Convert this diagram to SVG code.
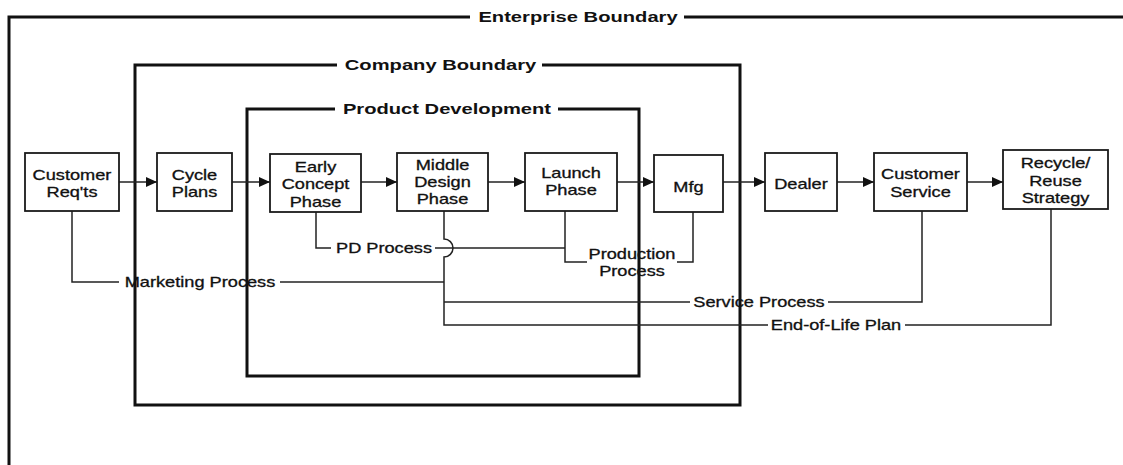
<svg xmlns="http://www.w3.org/2000/svg" width="1123" height="465" viewBox="0 0 1123 465">
  <style>
    .bound { fill: none; stroke: #111; stroke-width: 3; }
    .box { fill: #fff; stroke: #1a1a1a; stroke-width: 1.8; }
    .wire { fill: none; stroke: #222; stroke-width: 1.5; }
    .flow { fill: none; stroke: #222; stroke-width: 1.5; marker-end: url(#head); }
    .lbl { font-family: "Liberation Sans", Arial, sans-serif; font-size: 14px; fill: #111; stroke: #111; stroke-width: 0.3; text-anchor: middle; }
    .title { font-family: "Liberation Sans", Arial, sans-serif; font-size: 15.5px; font-weight: bold; fill: #111; text-anchor: middle; }
  </style>
  <defs>
    <marker id="head" markerUnits="userSpaceOnUse" markerWidth="11" markerHeight="10" refX="11" refY="5" orient="auto">
      <path d="M0,0 L11,5 L0,10 Z" fill="#111"/>
    </marker>
  </defs>
  <rect width="1123" height="465" fill="#fff"/>

  <!-- Nested boundaries -->
  <g id="enterprise-boundary">
    <path class="bound" d="M470,17 H9 V465"/>
    <path class="bound" d="M684,17 H1123"/>
    <text class="title" transform="translate(578 0) scale(1.3 1)" x="0" y="22.5">Enterprise Boundary</text>
  </g>
  <g id="company-boundary">
    <path class="bound" d="M337,65 H135 V405 H740 V65 H542"/>
    <text class="title" transform="translate(440.5 0) scale(1.3 1)" x="0" y="70.5">Company Boundary</text>
  </g>
  <g id="product-development">
    <path class="bound" d="M335,109 H247 V376 H639 V109 H558"/>
    <text class="title" transform="translate(447 0) scale(1.3 1)" x="0" y="114.5">Product Development</text>
  </g>

  <!-- Connectors -->
  <g id="connectors">
    <!-- main value chain -->
    <line class="flow" x1="119" y1="182" x2="157" y2="182"/>
    <line class="flow" x1="232" y1="182" x2="270" y2="182"/>
    <line class="flow" x1="361" y1="182" x2="397" y2="182"/>
    <line class="flow" x1="488" y1="182" x2="525" y2="182"/>
    <line class="flow" x1="617" y1="182" x2="654" y2="182"/>
    <line class="flow" x1="723" y1="182" x2="765" y2="182"/>
    <line class="flow" x1="837" y1="182" x2="874" y2="182"/>
    <line class="flow" x1="967" y1="182" x2="1003" y2="182"/>

    <!-- marketing process -->
    <path class="wire" d="M72,211 V282 H119"/>
    <path class="wire" d="M280,282 H444"/>
    <!-- PD process -->
    <path class="wire" d="M316,212 V248 H331"/>
    <path class="wire" d="M435,248 H565"/>
    <!-- production process -->
    <path class="wire" d="M565,211 V262 H587"/>
    <path class="wire" d="M693,212 V262 H677"/>
    <!-- shared spine from the middle design phase, hopping the PD line -->
    <path class="wire" d="M444,211 V239 A9,9 0 0 1 444,257 V325 H768"/>
    <!-- service process -->
    <path class="wire" d="M444,302 H690"/>
    <path class="wire" d="M828,302 H922 V211"/>
    <!-- end-of-life plan -->
    <path class="wire" d="M905,325 H1051 V209"/>

    <text class="lbl" transform="translate(384 0) scale(1.3 1)" x="0" y="253">PD Process</text>
    <text class="lbl" transform="translate(200 0) scale(1.3 1)" x="0" y="287">Marketing Process</text>
    <text class="lbl" transform="translate(632 0) scale(1.3 1)"><tspan x="0" y="259">Production</tspan><tspan x="0" y="276">Process</tspan></text>
    <text class="lbl" transform="translate(759 0) scale(1.3 1)" x="0" y="307">Service Process</text>
    <text class="lbl" transform="translate(836 0) scale(1.3 1)" x="0" y="330">End-of-Life Plan</text>
  </g>

  <!-- Nodes -->
  <g id="customer-reqts">
    <rect class="box" x="25" y="153" width="94" height="58"/>
    <text class="lbl" transform="translate(72 0) scale(1.3 1)"><tspan x="0" y="180">Customer</tspan><tspan x="0" y="197">Req'ts</tspan></text>
  </g>
  <g id="cycle-plans">
    <rect class="box" x="157" y="153" width="75" height="58"/>
    <text class="lbl" transform="translate(194.5 0) scale(1.3 1)"><tspan x="0" y="180">Cycle</tspan><tspan x="0" y="197">Plans</tspan></text>
  </g>
  <g id="early-concept">
    <rect class="box" x="270" y="154" width="91" height="58"/>
    <text class="lbl" transform="translate(315.5 0) scale(1.3 1)"><tspan x="0" y="172">Early</tspan><tspan x="0" y="189.5">Concept</tspan><tspan x="0" y="207">Phase</tspan></text>
  </g>
  <g id="middle-design">
    <rect class="box" x="397" y="153" width="91" height="58"/>
    <text class="lbl" transform="translate(442.5 0) scale(1.3 1)"><tspan x="0" y="170">Middle</tspan><tspan x="0" y="187">Design</tspan><tspan x="0" y="204">Phase</tspan></text>
  </g>
  <g id="launch-phase">
    <rect class="box" x="525" y="153" width="92" height="58"/>
    <text class="lbl" transform="translate(571 0) scale(1.3 1)"><tspan x="0" y="178">Launch</tspan><tspan x="0" y="195">Phase</tspan></text>
  </g>
  <g id="mfg">
    <rect class="box" x="654" y="155" width="69" height="57"/>
    <text class="lbl" transform="translate(688.5 0) scale(1.3 1)" x="0" y="192">Mfg</text>
  </g>
  <g id="dealer">
    <rect class="box" x="765" y="153" width="72" height="58"/>
    <text class="lbl" transform="translate(801 0) scale(1.3 1)" x="0" y="189">Dealer</text>
  </g>
  <g id="customer-service">
    <rect class="box" x="874" y="153" width="93" height="58"/>
    <text class="lbl" transform="translate(920.5 0) scale(1.3 1)"><tspan x="0" y="179">Customer</tspan><tspan x="0" y="197">Service</tspan></text>
  </g>
  <g id="recycle-reuse">
    <rect class="box" x="1003" y="150" width="105" height="59"/>
    <text class="lbl" transform="translate(1055.5 0) scale(1.3 1)"><tspan x="0" y="168">Recycle/</tspan><tspan x="0" y="186">Reuse</tspan><tspan x="0" y="203">Strategy</tspan></text>
  </g>
</svg>
